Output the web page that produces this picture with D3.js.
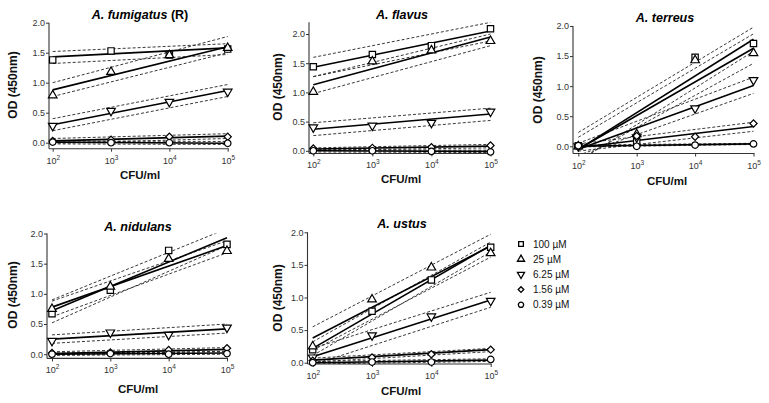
<!DOCTYPE html>
<html><head><meta charset="utf-8">
<script src="https://cdn.jsdelivr.net/npm/d3@7"></script>
<style>
body{margin:0;background:#fff;}
svg{display:block;font-family:"Liberation Sans",Arial,sans-serif;}
</style></head>
<body><svg id="c" width="769" height="403"></svg>
<script>
// ---- data ----
const xExponents = [2, 3, 4, 5];
const concentrations = ["100 \u00b5M", "25 \u00b5M", "6.25 \u00b5M", "1.56 \u00b5M", "0.39 \u00b5M"];
const yTicks = [0, 0.5, 1.0, 1.5, 2.0];
const panelTitles = ["A. fumigatus", "A. flavus", "A. terreus", "A. nidulans", "A. ustus"];

const fumigatusOD = [[1.38,1.53,1.46,1.56],[0.79,1.18,1.46,1.58],[0.28,0.53,0.68,0.85],[0.03,0.05,0.10,0.10],[0.01,0.00,0.00,-0.01]];
const fumigatusFit = [[1.43,1.58],[0.88,1.60],[0.30,0.87],[0.03,0.11],[0.01,-0.01]];
const fumigatusUpper = [[1.52,1.65],[1.00,1.77],[0.40,0.97],[0.07,0.15],[0.03,0.02]];
const fumigatusLower = [[1.32,1.47],[0.77,1.50],[0.20,0.77],[-0.01,0.07],[-0.02,-0.03]];

const flavusOD = [[1.44,1.65,1.80,2.09],[1.01,1.53,1.72,1.88],[0.40,0.43,0.48,0.67],[0.04,0.05,0.06,0.09],[0.00,0.00,-0.01,-0.02]];
const flavusFit = [[1.43,2.05],[1.13,1.95],[0.37,0.63],[0.03,0.08],[0.00,-0.01]];
const flavusUpper = [[1.60,2.20],[1.27,2.00],[0.48,0.73],[0.05,0.11],[0.02,0.01]];
const flavusLower = [[1.27,1.88],[0.98,1.80],[0.26,0.52],[0.01,0.05],[-0.02,-0.03]];

const terreusOD = [[0.01,0.08,1.48,1.71],[0.00,0.20,1.43,1.55],[0.00,0.15,0.63,1.10],[0.00,0.17,0.16,0.38],[0.01,0.00,0.02,0.04]];
const terreusFit = [[-0.05,1.78],[-0.05,1.63],[-0.05,1.01],[-0.02,0.33],[0.00,0.04]];
const terreusUpper = [[0.23,1.98],[0.15,1.87],[0.05,1.15],[0.04,0.40],[0.02,0.05]];
const terreusLower = [[-0.25,1.58],[-0.22,1.38],[-0.15,0.88],[-0.08,0.25],[-0.01,0.03]];

const nidulansOD = [[0.67,1.06,1.72,1.82],[0.75,1.12,1.58,1.71],[0.22,0.36,0.32,0.44],[0.02,0.03,0.07,0.10],[0.00,0.01,0.00,0.01]];
const nidulansFit = [[0.72,1.93],[0.78,1.80],[0.25,0.42],[0.01,0.08],[0.00,0.02]];
const nidulansUpper = [[0.90,2.08],[0.88,1.88],[0.32,0.50],[0.04,0.11],[0.02,0.04]];
const nidulansLower = [[0.52,1.80],[0.62,1.68],[0.18,0.35],[-0.01,0.05],[-0.02,0.00]];

const ustusOD = [[0.20,0.79,1.27,1.77],[0.25,0.97,1.46,1.68],[0.08,0.42,0.71,0.95],[0.03,0.08,0.13,0.20],[0.00,0.01,0.01,0.05]];
const ustusFit = [[0.22,1.80],[0.38,1.79],[0.09,0.96],[0.04,0.20],[0.00,0.04]];
const ustusUpper = [[0.32,1.85],[0.55,1.97],[0.22,1.08],[0.07,0.22],[0.02,0.06]];
const ustusLower = [[0.11,1.70],[0.19,1.62],[-0.03,0.85],[0.01,0.17],[-0.02,0.02]];

// ---- layout ----
const layouts = [
  {x0:52.7, x1:227.7, yAxisX:49,  yTop:22.7, yZero:142.7, dTop:2.0, dMin:-0.1, title:[140,19],  xl:[140,179], yl:[13,85]},
  {x0:313.3,x1:490.5, yAxisX:309, yTop:34,   yZero:150.8, dTop:2.2, dMin:-0.045, title:[402,19], xl:[401,183], yl:[278,87]},
  {x0:578.3,x1:753.5, yAxisX:573, yTop:26,   yZero:146.3, dTop:2.0, dMin:-0.12, title:[665,22],  xl:[667,185], yl:[538,90]},
  {x0:52,   x1:227,   yAxisX:47,  yTop:233.5,yZero:354.2, dTop:2.0, dMin:-0.07, title:[138,231], xl:[138,393], yl:[13,295]},
  {x0:312.7,x1:490.7, yAxisX:307.5,yTop:232.3,yZero:362.7,dTop:2.0, dMin:-0.02, title:[402,227.5],xl:[401,395], yl:[278,298]}
];
const panelData = [
  [fumigatusOD, fumigatusFit, fumigatusUpper, fumigatusLower],
  [flavusOD, flavusFit, flavusUpper, flavusLower],
  [terreusOD, terreusFit, terreusUpper, terreusLower],
  [nidulansOD, nidulansFit, nidulansUpper, nidulansLower],
  [ustusOD, ustusFit, ustusUpper, ustusLower]
];
const symbolTypes = [d3.symbolSquare, d3.symbolTriangle, d3.symbolTriangle, d3.symbolSquare, d3.symbolCircle];
const symbolRot = [0, 0, 180, 45, 0];
const symbolSize = [40, 32, 32, 26, 34];

const svg = d3.select("#c");
const supMap = {2:"2",3:"3",4:"4",5:"5"};

layouts.forEach((L, p) => {
  const [od, fit, up, lo] = panelData[p];
  const x = d3.scaleLinear().domain([2, 5]).range([L.x0, L.x1]);
  const y = d3.scaleLinear().domain([0, 2]).range([L.yZero, L.yTop]);
  const yMinPx = y(L.dMin), yMaxPx = y(L.dTop);
  const g = svg.append("g");

  const clipId = "clip" + p;
  svg.append("clipPath").attr("id", clipId).append("rect")
    .attr("x", L.yAxisX).attr("y", yMaxPx).attr("width", L.x1 + 6 - L.yAxisX).attr("height", yMinPx - yMaxPx);

  // axes
  const yAxis = d3.axisLeft(y).tickValues(yTicks).tickFormat(d3.format(".1f")).tickSize(3).tickSizeOuter(0);
  const ya = g.append("g").attr("transform", `translate(${L.yAxisX},0)`).call(yAxis);
  ya.select(".domain").attr("d", `M0,${yMaxPx}V${yMinPx}`);
  const xAxisG = g.append("g").attr("transform", `translate(0,${yMinPx})`);
  const xAxis = d3.axisBottom(x).tickValues(xExponents).tickSize(3).tickSizeOuter(0).tickFormat(() => "");
  xAxisG.call(xAxis);
  xAxisG.select(".domain").attr("d", `M${L.yAxisX},0H${L.x1 + 1}`);
  [ya, xAxisG].forEach(a => {
    a.selectAll(".domain").attr("stroke", "#333").attr("stroke-width", 1.1);
    a.selectAll(".tick line").attr("stroke", "#333");
    a.selectAll("text").attr("font-size", 9).attr("fill", "#333").attr("font-family", "Liberation Sans, Arial, sans-serif");
  });
  ya.selectAll("text").attr("x", -4);
  xAxisG.selectAll(".tick").each(function(d) {
    const t = d3.select(this).append("text").attr("y", 15).attr("text-anchor", "middle")
      .attr("font-size", 9).attr("fill", "#333");
    t.append("tspan").text("10");
    t.append("tspan").attr("dy", -4).attr("font-size", 6.5).text(supMap[d]);
  });

  // title
  const tt = g.append("text").attr("x", L.title[0]).attr("y", L.title[1]).attr("text-anchor", "middle")
    .attr("font-size", 12.5).attr("font-weight", "bold");
  tt.append("tspan").attr("font-style", "italic").text(panelTitles[p]);
  if (p === 0) tt.append("tspan").text(" (R)");

  g.append("text").attr("x", L.xl[0]).attr("y", L.xl[1]).attr("text-anchor", "middle")
    .attr("font-size", 11.5).attr("font-weight", "bold").attr("fill", "#111").text("CFU/ml");
  g.append("text").attr("transform", `translate(${L.yl[0] + 4},${L.yl[1]}) rotate(-90)`).attr("text-anchor", "middle")
    .attr("font-size", 12).attr("font-weight", "bold").attr("fill", "#111").text("OD (450nm)");

  const lines = g.append("g").attr("clip-path", `url(#${clipId})`);
  const line = d3.line().x(d => x(d[0])).y(d => y(d[1]));
  od.forEach((s, i) => {
    [up[i], lo[i]].forEach(b => {
      lines.append("path").attr("d", line([[2, b[0]], [5, b[1]]]))
        .attr("fill", "none").attr("stroke", "#222").attr("stroke-width", 0.9).attr("stroke-dasharray", "3,2");
    });
  });
  od.forEach((s, i) => {
    lines.append("path").attr("d", line([[2, fit[i][0]], [5, fit[i][1]]]))
      .attr("fill", "none").attr("stroke", "#000").attr("stroke-width", 1.6);
  });
  od.forEach((s, i) => {
    const sym = d3.symbol().type(symbolTypes[i]).size(symbolSize[i]);
    g.append("g").selectAll("path").data(s).join("path")
      .attr("d", sym)
      .attr("transform", (d, j) => `translate(${x(xExponents[j])},${y(d)}) rotate(${symbolRot[i]})`)
      .attr("fill", "#fff").attr("stroke", "#000").attr("stroke-width", 1.2);
  });
});

// legend
const leg = svg.append("g");
concentrations.forEach((c, i) => {
  const yy = 244 + i * 15.2;
  const sym = d3.symbol().type(symbolTypes[i]).size(i === 3 ? 16 : 22);
  leg.append("path").attr("d", sym).attr("transform", `translate(521,${yy}) rotate(${symbolRot[i]})`)
    .attr("fill", "#fff").attr("stroke", "#000").attr("stroke-width", 1.3);
  leg.append("text").attr("x", 533).attr("y", yy + 3.5).attr("font-size", 10).attr("fill", "#111").text(c);
});
</script></body></html>
